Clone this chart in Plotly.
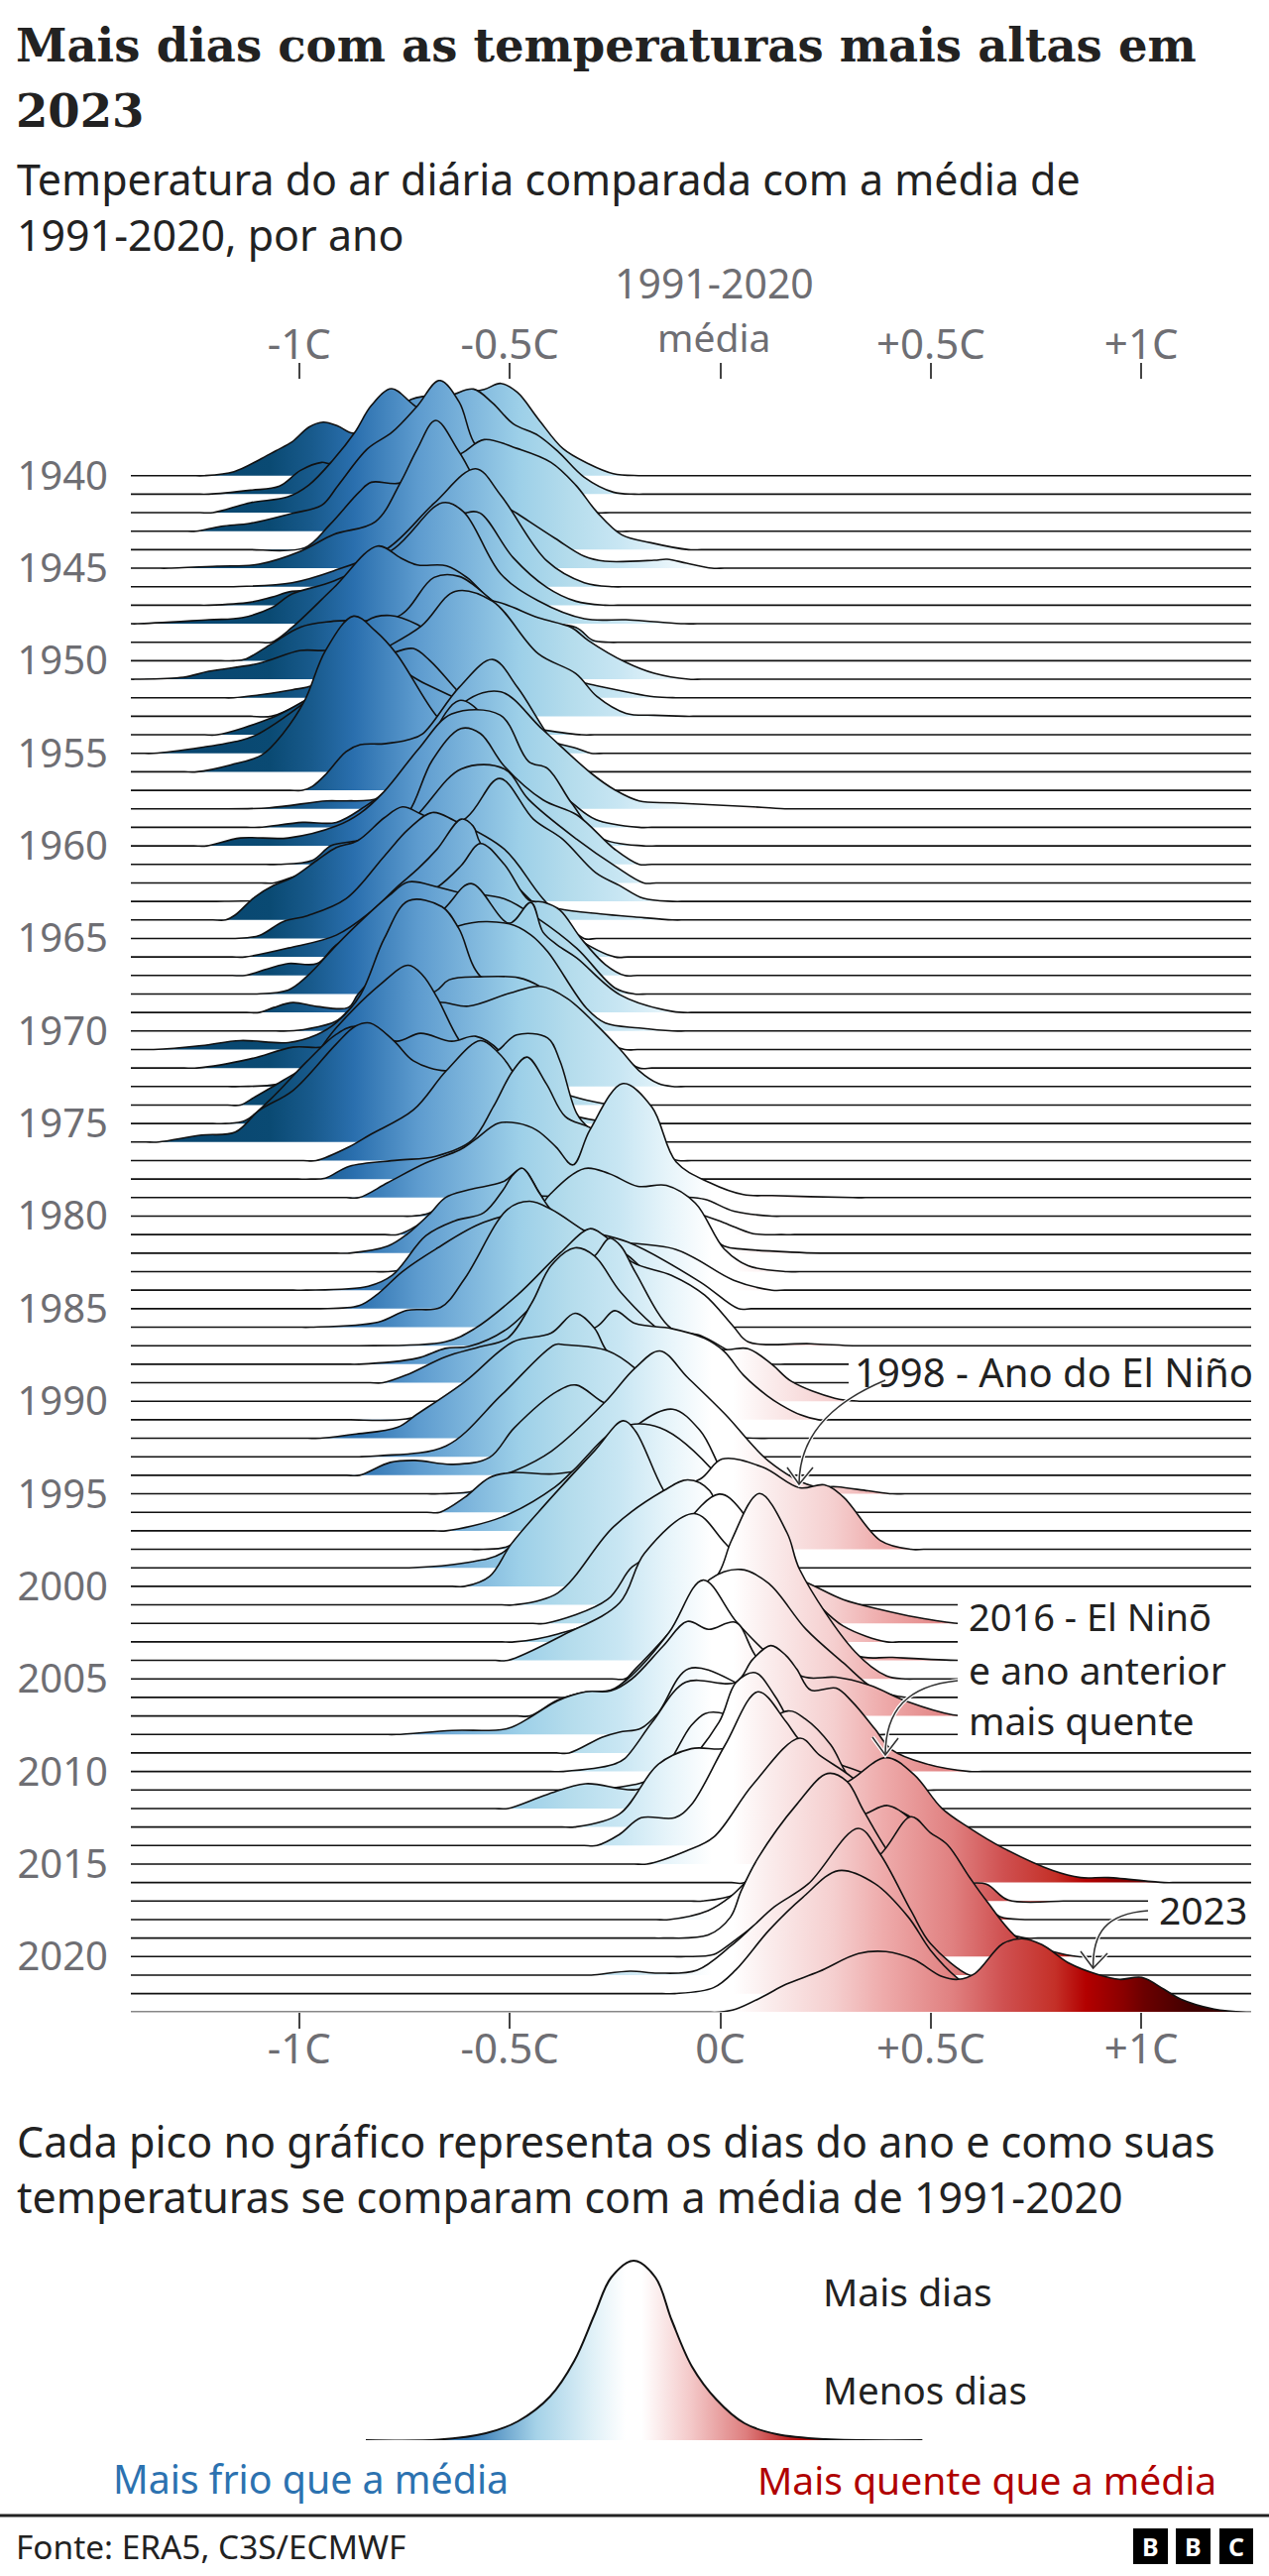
import plotly.graph_objects as go

W, H = 1280, 2598
years = list(range(1940, 2024))

# temperature anomaly (C) and relative density of days, one pair per year
t1940=[-1.225,-1.155,-1.095,-1.056,-1.017,-.977,-.943,-.908,-.873,-.819,-.734,-.63,-.561,-.521,-.482,-.432,-.373,-.313,-.254,-.194]
d1940=[0,4,16,25,34,49,54,50,43,50,77,82,87,93,84,57,27,12,2,0]
t1941=[-1.215,-1.116,-1.047,-.997,-.947,-.923,-.819,-.72,-.63,-.586,-.541,-.492,-.432,-.383,-.323,-.254,-.204]
d1941=[0,4,8,24,32,31,59,82,101,106,92,71,59,42,17,2,0]
t1942=[-1.205,-1.116,-1.027,-.977,-.918,-.868,-.829,-.781,-.729,-.63,-.521,-.392,-.293]
d1942=[0,10,16,28,54,81,108,125,109,78,38,8,0]
t1943=[-1.245,-1.185,-1.116,-1.017,-.947,-.908,-.838,-.779,-.72,-.667,-.62,-.586,-.521,-.392,-.244]
d1943=[0,5,8,18,26,46,83,100,126,152,130,90,56,20,0]
t1944=[-1.116,-.987,-.928,-.858,-.829,-.764,-.68,-.611,-.561,-.482,-.402,-.343,-.293,-.234,-.165,-.075]
d1944=[0,2,25,58,68,67,82,98,111,102,88,65,38,15,7,0]
t1945=[-1.31,-1.195,-1.096,-.997,-.918,-.819,-.759,-.72,-.676,-.62,-.561,-.482,-.392,-.323,-.274,-.157,-.126,-.08,-.02]
d1945=[0,2,4,17,34,47,87,120,149,117,77,55,30,12,7,8,9,5,0]
t1946=[-1.156,-1.017,-.918,-.789,-.68,-.581,-.521,-.412,-.323,-.254]
d1946=[0,4,16,39,84,119,92,26,4,0]
t1947=[-1.215,-1.116,-1.066,-1.017,-.928,-.819,-.72,-.606,-.571,-.492,-.412,-.343,-.274]
d1947=[0,3,8,14,16,38,71,93,93,48,18,4,0]
t1948=[-1.384,-1.215,-1.136,-1.066,-1.017,-.918,-.774,-.66,-.61,-.521,-.432,-.323,-.224,-.157,-.085]
d1948=[0,4,6,16,30,43,76,122,113,50,23,5,4,2,0]
t1949=[-1.066,-1.017,-.918,-.814,-.759,-.72,-.65,-.601,-.551,-.462,-.343,-.303,-.264]
d1949=[0,15,55,97,85,78,77,65,45,22,15,2,0]
t1950=[-1.156,-1.126,-1.066,-.997,-.918,-.764,-.68,-.62,-.551,-.482,-.392,-.323]
d1950=[0,2,17,34,40,45,84,85,64,34,5,0]
t1951=[-1.39,-1.275,-1.215,-1.096,-.997,-.938,-.819,-.71,-.62,-.541,-.432,-.353,-.313,-.224,-.157,-.075]
d1951=[0,2,8,16,29,29,36,46,76,79,62,52,39,17,6,0]
t1952=[-1.156,-1.017,-.967,-.918,-.838,-.784,-.72,-.64,-.521,-.422,-.313,-.224,-.157,-.105]
d1952=[0,8,13,31,78,83,74,51,31,24,14,6,1,0]
t1953=[-1.116,-1.066,-.997,-.918,-.819,-.71,-.63,-.541,-.432,-.343,-.293,-.224,-.157,-.085]
d1953=[0,0,13,36,63,91,126,116,63,43,20,3,1,0]
t1954=[-1.195,-1.066,-.997,-.918,-.848,-.774,-.729,-.69,-.63,-.591,-.521,-.422,-.329]
d1954=[0,17,32,52,68,83,87,75,47,28,12,5,0]
t1955=[-1.346,-1.232,-1.14,-1.095,-.96,-.85,-.7,-.55,-.45,-.387,-.341,-.307]
d1955=[0,6,13,20,60,100,70,40,20,10,5,0]
t1956=[-1.243,-1.163,-1.089,-1.038,-.987,-.938,-.871,-.819,-.769,-.675,-.62,-.55,-.45,-.41,-.353]
d1956=[0,7,17,39,72,122,157,142,119,57,35,22,10,4,0]
t1957=[-.992,-.969,-.935,-.889,-.855,-.798,-.741,-.707,-.62,-.541,-.482,-.422,-.36,-.284]
d1957=[0,4,17,39,46,47,51,57,104,132,104,64,25,0]
t1958=[-1.197,-1.072,-.935,-.889,-.809,-.741,-.684,-.606,-.521,-.422,-.307,-.25,-.193,-.113,.079,.161]
d1958=[0,1,8,8,11,34,53,108,118,80,36,19,8,6,2,0]
t1959=[-1.095,-.992,-.912,-.844,-.798,-.741,-.707,-.62,-.551,-.492,-.353,-.296,-.193]
d1959=[0,5,5,21,35,55,75,128,108,75,25,8,0]
t1960=[-1.22,-1.14,-1.026,-.912,-.855,-.798,-.718,-.638,-.523,-.455,-.41,-.353,-.284,-.182]
d1960=[0,8,8,20,33,55,97,133,132,85,78,43,8,0]
t1961=[-1.049,-.969,-.924,-.861,-.798,-.741,-.684,-.616,-.57,-.513,-.421,-.341,-.25,-.193]
d1961=[0,4,19,24,32,52,105,137,132,99,65,50,15,0]
t1962=[-1.06,-1.015,-.912,-.741,-.615,-.513,-.455,-.341,-.25,-.182]
d1962=[0,6,20,60,115,115,84,44,17,0]
t1963=[-1.197,-1.049,-.912,-.741,-.604,-.524,-.444,-.375,-.296,-.239,-.182,-.113]
d1963=[0,3,23,59,84,124,83,63,29,16,3,0]
t1964=[-1.175,-1.152,-1.106,-1.06,-1.015,-.958,-.912,-.861,-.798,-.755,-.712,-.626,-.513,-.45,-.381,-.284,-.204,-.113]
d1964=[0,5,23,35,43,60,73,80,103,114,107,88,55,20,11,6,3,0]
t1965=[-1.152,-1.095,-1.038,-.98,-.889,-.798,-.741,-.684,-.632,-.513,-.421,-.324]
d1965=[0,3,17,23,40,83,110,127,119,90,40,0]
t1966=[-1.129,-1.026,-.912,-.832,-.764,-.718,-.672,-.615,-.587,-.57,-.455,-.341,-.25]
d1966=[0,9,22,45,72,89,109,139,132,115,59,19,0]
t1967=[-1.129,-1.072,-1.026,-.958,-.912,-.798,-.672,-.615,-.57,-.513,-.455,-.421,-.381,-.33,-.273,-.227]
d1967=[0,7,12,12,31,61,89,111,133,112,76,74,66,37,11,0]
t1968=[-1.106,-1.026,-.981,-.912,-.855,-.787,-.741,-.672,-.627,-.513,-.433,-.341,-.25,-.204]
d1968=[0,4,18,49,73,99,113,108,103,96,76,46,6,0]
t1969=[-1.095,-1.061,-1.015,-.958,-.884,-.861,-.798,-.655,-.592,-.501,-.45,-.421,-.387,-.341,-.239,-.113,-.056]
d1969=[0,5,10,6,5,18,48,105,130,90,111,81,68,55,18,1,0]
t1970=[-1.026,-.981,-.912,-.878,-.798,-.621,-.501,-.45,-.41,-.318,-.273,-.193,-.113]
d1970=[0,2,10,23,53,106,108,97,80,23,8,3,0]
t1971=[-1.346,-1.232,-1.14,-1.026,-.958,-.912,-.855,-.798,-.741,-.661,-.621,-.57,-.455,-.341,-.227]
d1971=[0,4,9,7,15,27,55,112,150,144,122,74,52,19,0]
t1972=[-1.243,-1.118,-1.015,-.935,-.866,-.775,-.678,-.644,-.57,-.479,-.427,-.341,-.25,-.193]
d1972=[0,9,21,22,44,71,77,89,92,91,82,54,17,0]
t1973=[-1.14,-1.038,-.981,-.912,-.798,-.667,-.598,-.501,-.427,-.364,-.296,-.239,-.193,-.147,-.113]
d1973=[0,4,23,49,79,85,81,94,101,89,63,38,16,3,0]
t1974=[-1.14,-1.106,-1.038,-.981,-.912,-.809,-.741,-.707,-.672,-.621,-.57,-.398,-.318,-.25]
d1974=[0,8,25,41,78,121,141,131,108,66,41,15,5,0]
t1975=[-1.175,-1.129,-1.072,-.981,-.912,-.866,-.769,-.712,-.638,-.581,-.524,-.495,-.444,-.341,-.227]
d1975=[0,3,23,63,90,98,83,91,83,88,73,53,23,7,0]
t1976=[-1.334,-1.232,-1.152,-1.095,-1.015,-.912,-.866,-.832,-.775,-.729,-.65,-.592,-.53,-.484,-.41,-.381,-.341,-.313,-.227]
d1976=[0,7,10,32,52,99,117,120,102,82,72,82,92,108,105,82,29,15,0]
t1977=[-.96,-.881,-.832,-.729,-.65,-.57,-.53,-.495,-.436,-.37,-.31,-.2,-.099]
d1977=[0,14,26,51,91,121,110,91,32,33,33,14,0]
t1978=[-.973,-.938,-.881,-.767,-.676,-.59,-.539,-.493,-.459,-.413,-.368,-.31,-.219,-.076]
d1978=[0,1,13,19,23,39,73,109,123,96,63,52,29,0]
t1979=[-.858,-.79,-.699,-.619,-.584,-.527,-.482,-.436,-.39,-.35,-.31,-.231,-.162,-.105,-.025,.055,.123,.315]
d1979=[0,15,35,48,58,75,75,68,51,33,68,115,91,36,15,3,2,0]
t1980=[-.733,-.699,-.653,-.584,-.47,-.333,-.219,-.105,-.037,.032,.123]
d1980=[0,2,10,13,20,20,27,20,17,5,0]
t1981=[-.767,-.721,-.676,-.596,-.447,-.333,-.219,-.105,.009,.078,.146]
d1981=[0,9,25,39,32,39,42,29,12,1,0]
t1982=[-.881,-.79,-.744,-.687,-.653,-.596,-.516,-.47,-.43,-.402,-.333,-.219,-.105,.009,.055,.169,.237]
d1982=[0,7,19,41,56,64,72,85,61,44,31,44,44,7,4,1,0]
t1983=[-.79,-.744,-.676,-.584,-.47,-.402,-.322,-.265,-.196,-.128,-.059,.009,.066,.158]
d1983=[0,3,16,26,43,79,104,99,86,87,69,23,6,0]
t1984=[-.984,-.836,-.779,-.699,-.63,-.562,-.516,-.493,-.47,-.43,-.402,-.333,-.105,.032,.123]
d1984=[0,4,15,55,70,78,101,116,123,98,81,55,41,10,0]
t1985=[-.95,-.858,-.813,-.756,-.676,-.562,-.447,-.333,-.219,-.048,.043]
d1985=[0,3,15,37,60,87,97,80,67,27,0]
t1986=[-.973,-.813,-.744,-.664,-.607,-.505,-.453,-.402,-.322,-.219,-.105,.009]
d1986=[0,5,17,20,49,119,127,119,97,72,25,0]
t1987=[-.858,-.653,-.584,-.482,-.379,-.31,-.276,-.208,-.116,-.037,.032,.066,.215,.315]
d1987=[0,4,17,51,94,118,111,84,71,51,19,4,2,0]
t1988=[-.858,-.721,-.653,-.596,-.505,-.39,-.299,-.263,-.236,-.202,-.116,-.048,.055,.123]
d1988=[0,6,16,18,36,83,109,127,119,93,36,29,6,0]
t1989=[-.801,-.744,-.653,-.573,-.505,-.447,-.402,-.345,-.299,-.236,-.128,-.059,.055,.123]
d1989=[0,8,26,36,45,81,118,136,128,91,48,35,5,0]
t1990=[-.676,-.619,-.562,-.47,-.333,-.219,-.105,.011,.066,.123,.169,.272,.33]
d1990=[0,2,20,57,67,63,60,52,53,37,20,3,0]
t1991=[-.881,-.721,-.607,-.447,-.293,-.251,-.202,-.116,-.037,.009,.055,.112,.144,.19,.233]
d1991=[0,3,35,72,94,110,97,92,82,69,45,24,15,5,0]
t1992=[-.95,-.87,-.767,-.721,-.607,-.493,-.402,-.345,-.299,-.271,-.231,-.121,-.025,.085]
d1992=[0,4,11,24,57,97,106,126,111,89,74,44,6,0]
t1993=[-.857,-.813,-.651,-.518,-.393,-.371,-.268,-.202,-.121,-.032,.027]
d1993=[0,1,11,63,113,113,107,89,49,16,0]
t1994=[-.857,-.784,-.725,-.636,-.548,-.489,-.386,-.342,-.275,-.231,-.18,-.106,-.047,.027]
d1994=[0,13,15,11,18,48,85,91,73,70,55,35,18,0]
t1995=[-.666,-.585,-.533,-.489,-.401,-.275,-.202,-.143,-.077,.012,.115,.218,.277,.351,.409]
d1995=[0,3,17,23,43,92,127,144,117,80,33,8,7,3,0]
t1996=[-.666,-.607,-.548,-.496,-.386,-.268,-.194,-.113,-.047,.027,.159,.218]
d1996=[0,15,35,40,39,52,89,104,82,29,5,0]
t1997=[-.651,-.518,-.393,-.349,-.239,-.143,-.003,.071,.159]
d1997=[0,14,44,61,104,104,54,4,0]
t1998=[-.563,-.504,-.415,-.268,-.135,-.047,.004,.1,.189,.247,.292,.38,.453]
d1998=[0,3,33,66,59,71,91,83,62,65,53,9,0]
t1999=[-.739,-.607,-.518,-.43,-.342,-.283,-.224,-.158,-.091,-.003,.056]
d1999=[0,5,15,55,98,117,95,66,41,8,0]
t2000=[-.607,-.548,-.496,-.415,-.298,-.231,-.202,-.135,-.047,.056,.115]
d2000=[0,10,43,83,137,167,157,97,43,3,0]
t2001=[-.489,-.386,-.253,-.135,-.077,-.025,.019,.1,.203,.262]
d2001=[0,12,79,115,126,115,62,19,2,0]
t2002=[-.415,-.268,-.209,-.158,-.135,-.091,.027,.189,.292,.38,.468,.564]
d2002=[0,24,57,67,64,71,64,44,24,14,6,0]
t2003=[-.489,-.386,-.239,-.121,-.003,.049,.115,.203,.292,.395]
d2003=[0,8,33,99,149,133,76,49,16,0]
t2004=[-.504,-.371,-.239,-.18,-.062,.012,.115,.321,.409,.564]
d2004=[0,26,58,108,148,118,68,5,3,0]
t2005=[-.227,-.188,-.135,-.108,-.003,.027,.093,.159,.189,.321,.395,.439]
d2005=[0,12,37,50,107,140,187,147,110,27,3,0]
t2006=[-.359,-.32,-.254,-.201,-.108,-.025,.049,.115,.203,.292,.365,.439]
d2006=[0,5,7,29,72,119,129,115,69,35,9,0]
t2007=[-.452,-.386,-.32,-.26,-.21,-.122,-.041,.04,.129,.202,.275,.354,.447,.552,.579]
d2007=[0,16,24,26,41,84,137,94,57,39,39,31,14,1,0]
t2008=[-.769,-.637,-.505,-.445,-.386,-.32,-.26,-.21,-.136,-.078,-.028,.037,.09,.182,.288,.367]
d2008=[0,4,6,19,34,43,44,56,89,114,106,113,76,53,9,0]
t2009=[-.359,-.28,-.24,-.188,-.148,-.075,.037,.156,.288,.367]
d2009=[0,16,21,25,40,85,71,35,15,0]
t2010=[-.373,-.254,-.227,-.161,-.082,.037,.077,.12,.156,.182,.215,.275,.314,.367,.407,.486,.592]
d2010=[0,7,13,50,90,90,113,127,117,103,82,84,70,43,22,8,0]
t2011=[-.373,-.254,-.148,-.069,-.036,-.003,.077,.156,.288,.394,.486]
d2011=[0,2,15,65,77,78,65,39,25,9,0]
t2012=[-.505,-.412,-.32,-.201,-.108,-.003,.037,.083,.129,.189,.288,.42,.526]
d2012=[0,14,25,19,34,87,127,137,114,71,34,4,0]
t2013=[-.346,-.24,-.148,-.069,.024,.16,.202,.262,.308,.42,.526]
d2013=[0,13,63,79,80,117,109,83,49,6,0]
t2014=[-.293,-.24,-.188,-.108,-.069,.011,.09,.156,.189,.288,.42,.499]
d2014=[0,11,28,28,41,101,155,125,106,71,15,0]
t2015=[-.174,-.082,-.016,.077,.189,.235,.314,.42,.552,.618]
d2015=[0,13,27,80,127,110,87,40,7,0]
t2016=[.057,.156,.235,.304,.394,.46,.526,.592,.671,.79,.856,.922,1.054]
d2016=[0,45,92,102,126,109,75,55,35,12,5,5,0]
t2017=[-.042,.037,.129,.222,.304,.374,.447,.552,.632,.684,.816]
d2017=[0,7,37,64,71,93,86,21,17,1,0]
t2018=[-.122,-.029,.024,.09,.222,.341,.398,.453,.486,.552,.618,.664,.724]
d2018=[0,9,23,50,90,106,115,101,83,39,20,3,0]
t2019=[-.135,-.029,.024,.05,.09,.182,.255,.301,.341,.42,.499,.618,.724]
d2019=[0,3,21,48,81,135,166,158,128,75,48,15,0]
t2020=[-.082,-.016,.024,.077,.156,.288,.38,.453,.499,.539,.592,.631,.711,.79,.849]
d2020=[0,2,13,30,57,80,103,141,125,113,80,57,17,5,0]
t2021=[-.306,-.214,-.148,-.055,.024,.077,.129,.209,.328,.38,.453,.499,.592]
d2021=[0,4,2,5,29,49,69,92,148,122,65,32,0]
t2022=[-.108,-.016,.037,.116,.196,.281,.367,.447,.499,.565,.618]
d2022=[0,6,24,64,97,124,111,77,44,15,0]
t2023=[-.003,.037,.103,.156,.235,.328,.394,.46,.526,.565,.605,.671,.717,.764,.83,.896,.948,1.001,1.054,1.094,1.173,1.252]
d2023=[0,3,16,28,41,59,61,53,36,33,39,69,74,68,49,38,33,35,23,13,3,0]

tick_values = [-1, -0.5, 0, 0.5, 1]
tick_labels = ["-1C", "-0.5C", "0C", "+0.5C", "+1C"]
top_labels = ["-1C", "-0.5C", " ", "+0.5C", "+1C"]
year_labels = list(range(1940, 2021, 5))

legend_t = [-.96,-.70,-.53,-.415,-.30,-.213,-.14,-.081,0,.078,.136,.209,.296,.397,.513,.687,1.035]
legend_d = [0,.5,7,19,44,80,127,164,181,164,121,74,41,17,6,1,0]

GREY = "#6e6e73"
INK = "#222222"
SANS = "Noto Sans"
STEP = 18.67
X0, X1 = -1.4, 1.261

stops = [(-1.4,"#06436d"),(-1.07,"#0a4a73"),(-.97,"#185a8c"),(-.87,"#2a6fae"),(-.715,"#5e9ccf"),
         (-.597,"#7db5dc"),(-.48,"#9ccfe8"),(-.36,"#b4dcec"),(-.24,"#c8e6f3"),(-.126,"#e6f4fa"),
         (-.02,"#ffffff"),(.03,"#ffffff"),(.107,"#fbeeee"),(.268,"#f5cfcf"),(.39,"#eeaaaa"),
         (.552,"#e08080"),(.674,"#cf5050"),(.795,"#c43028"),(.869,"#b30000"),(.957,"#8a0000"),
         (1.007,"#6b0000"),(1.12,"#400000"),(1.261,"#300000")]
scale = [[(v-X0)/(X1-X0), c] for v, c in stops]
L0, L1 = -.96, 1.035
lstops = [(-.96,"#2c72b0"),(-.6,"#2c72b0"),(-.35,"#a5d2e8"),(-.15,"#dff0f7"),(-.03,"#ffffff"),(.03,"#ffffff"),
          (.2,"#f4caca"),(.4,"#de7f7f"),(.62,"#b00000"),(1.035,"#b00000")]
lscale = [[(v-L0)/(L1-L0), c] for v, c in lstops]

def padded(ts, ds, lo, hi):
    """Flat lead-in and lead-out so the spline stays on the baseline outside the curve."""
    left = [t for t in (ts[0]-.12, ts[0]-.06, ts[0]-.03) if t > lo]
    right = [t for t in (ts[-1]+.03, ts[-1]+.06, ts[-1]+.12) if t < hi]
    xs = [lo] + left + list(ts) + right + [hi]
    ys = [0]*(1+len(left)) + list(ds) + [0]*(1+len(right))
    return xs, ys

fig = go.Figure()
for yr in years:
    base = (2023-yr)*STEP
    xs, hs = padded(globals()[f"t{yr}"], globals()[f"d{yr}"], X0, X1)
    ys = [base+h for h in hs]
    fig.add_trace(go.Scatter(x=xs, y=ys, mode="lines", fill="toself", hoverinfo="skip",
        line=dict(width=0, shape="spline", smoothing=1), showlegend=False,
        fillgradient=dict(type="horizontal", colorscale=scale, start=X0, stop=X1)))
    fig.add_trace(go.Scatter(x=xs, y=ys, mode="lines", hoverinfo="skip", showlegend=False,
        line=dict(color="#111111", width=1.6, shape="spline", smoothing=1)))

fig.add_trace(go.Scatter(x=[X0], y=[0], xaxis="x2", mode="lines", hoverinfo="skip", showlegend=False))
fig.add_trace(go.Scatter(x=legend_t, y=legend_d, xaxis="x3", yaxis="y3", mode="lines", fill="toself", hoverinfo="skip",
    line=dict(width=0, shape="spline", smoothing=1), showlegend=False,
    fillgradient=dict(type="horizontal", colorscale=lscale, start=L0, stop=L1)))
fig.add_trace(go.Scatter(x=legend_t, y=legend_d, xaxis="x3", yaxis="y3", mode="lines", hoverinfo="skip", showlegend=False,
    line=dict(color="#111111", width=2, shape="spline", smoothing=1)))

def px(x): return x/W
def py(y): return 1-y/H
def note(text, x, y, size=37, color=INK, family=SANS, anchor="left", bold=False):
    return dict(text=f"<b>{text}</b>" if bold else text, xref="paper", yref="paper", x=px(x), y=py(y),
                xanchor=anchor, yanchor="middle", align=anchor if anchor != "middle" else "center", showarrow=False,
                font=dict(size=size, color=color, family=family))
def rect(x0,y0,x1,y1,color="#ffffff"):
    return dict(type="rect", xref="paper", yref="paper", x0=px(x0), x1=px(x1), y0=py(y1), y1=py(y0),
                fillcolor=color, line=dict(width=0), layer="above")
def path(points, cmd, color, width):
    d = ""
    for c, p in zip(cmd, points):
        d += f"{c} {px(p[0]):.5f} {py(p[1]):.5f} "
    return dict(type="path", xref="paper", yref="paper", path=d, fillcolor="rgba(0,0,0,0)",
                line=dict(color=color, width=width), layer="above")
def arrow(start, c1, c2, tip, a, b):
    out = []
    for col, w in (("#ffffff", 4), ("#333333", 1.6)):
        out.append(path([start,c1,c2,tip], ["M","C","",""], col, w))
        out.append(path([a,tip,b], ["M","L","L"], col, w))
    return out

shapes = [rect(856,1362,1280,1408), rect(966,1607,1280,1758), rect(1158,1907,1280,1946)]
shapes += arrow((893,1392),(850,1410),(806,1440),(806,1497),(794,1480),(820,1480))
shapes += arrow((966,1695),(915,1700),(893,1725),(893,1770),(880,1752),(906,1753))
shapes += arrow((1158,1927),(1115,1930),(1102,1950),(1102.6,1985),(1090,1968),(1117,1970))
shapes.append(dict(type="line", xref="paper", yref="paper", x0=0, x1=1, y0=py(2537), y1=py(2537),
                   line=dict(color=INK, width=3), layer="above"))
for a,b in ((1143,1178),(1186,1221),(1230,1264)):
    shapes.append(rect(a,2550,b,2586,"#000000"))

TITLE = "DejaVu Serif"
anns = [
    note("Mais dias com as temperaturas mais altas em", 14, 45, 46.5, INK, TITLE, bold=True),
    note("2023", 14, 112, 46.5, INK, TITLE, bold=True),
    note("Temperatura do ar diária comparada com a média de<br>1991-2020, por ano", 15, 209, 42.9),
    note("1991-2020", 720, 285, 41, GREY, anchor="center"),
    note("média", 720, 339, 39, GREY, anchor="center"),
    note("1998 - Ano do El Niño", 860, 1383, 40),
    note("2016 - El Ninõ", 975, 1630, 38),
    note("e ano anterior", 975, 1683, 39),
    note("mais quente", 975, 1734, 39),
    note("2023", 1167, 1925, 39),
    note("Cada pico no gráfico representa os dias do ano e como suas<br>temperaturas se comparam com a média de 1991-2020", 15, 2187, 43),
    note("Mais dias", 828, 2310, 39),
    note("Menos dias", 828, 2410, 38.5),
    note("Mais frio que a média", 112, 2500, 39.3, "#2c72b0"),
    note("Mais quente que a média", 762, 2500, 39, "#b00000"),
    note("Fonte: ERA5, C3S/ECMWF", 14, 2568, 33.4),
]
for c, (a,b) in zip("BBC", ((1143,1178),(1186,1221),(1230,1264))):
    anns.append(note(c, (a+b)/2, 2568, 25, "#ffffff", anchor="center", bold=True))

fig.update_layout(
    width=W, height=H, margin=dict(l=0,r=0,t=0,b=0), paper_bgcolor="white", plot_bgcolor="rgba(0,0,0,0)",
    showlegend=False, shapes=shapes, annotations=anns,
    xaxis=dict(domain=[132/W,1262/W], range=[X0,X1], anchor="y", tickmode="array", tickvals=tick_values,
               ticktext=tick_labels, ticks="outside", ticklen=16, tickwidth=1.6, tickcolor="#444444",
               ticklabelstandoff=-16, tickfont=dict(size=42,color=GREY,family=SANS),
               showgrid=False, zeroline=False, showline=False),
    xaxis2=dict(domain=[132/W,1262/W], range=[X0,X1], overlaying="x", side="top", anchor="y", tickmode="array",
                tickvals=tick_values, ticktext=top_labels, ticks="outside", ticklen=16, tickwidth=1.6,
                tickcolor="#444444", ticklabelstandoff=-13, tickfont=dict(size=42,color=GREY,family=SANS),
                showgrid=False, zeroline=False, showline=False),
    yaxis=dict(domain=[1-2029.3/H,1-383/H], range=[0,2029.3-383], tickmode="array",
               tickvals=[(2023-y)*STEP for y in year_labels], ticktext=[str(y) for y in year_labels],
               ticks="", ticklabelstandoff=22, tickfont=dict(size=40,color=GREY,family=SANS),
               showgrid=False, zeroline=False, showline=False),
    xaxis3=dict(domain=[369/W,930.6/W], range=[L0,L1], anchor="y3", visible=False),
    yaxis3=dict(domain=[1-2461/H,1-2275/H], range=[0,186], anchor="x3", visible=False),
)
fig.write_html("out.html", post_script="document.body.style.margin='0';", config={"displayModeBar": False})
